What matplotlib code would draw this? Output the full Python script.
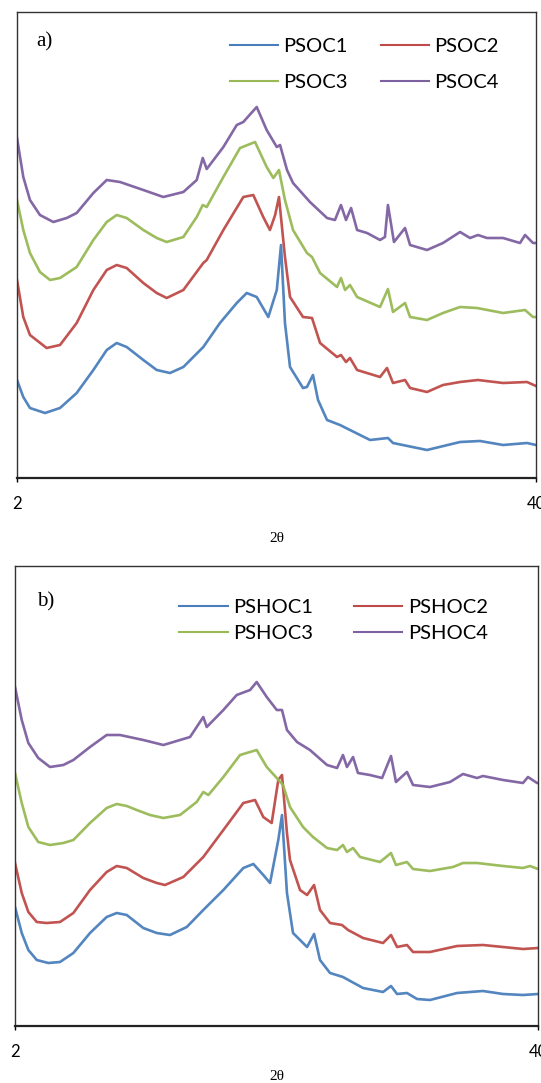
import matplotlib
matplotlib.use("Agg")
import matplotlib.pyplot as plt
from matplotlib.lines import Line2D

# --- panel a) PSOC series: 2theta (deg) and intensity (a.u., offset stacked) ---
psoc1_tt = [2.0, 2.46, 2.95, 4.05, 5.15, 6.37, 7.59, 8.57, 9.30, 10.03, 11.25, 12.23,
            13.2, 14.18, 15.64, 16.86, 18.09, 18.82, 19.55, 20.40, 21.02, 21.33, 21.62,
            21.99, 22.94, 23.23, 23.67, 24.04, 24.70, 25.65, 26.38, 27.85, 29.16, 29.53,
            32.02, 34.44, 35.9, 37.59, 39.34, 40.0]
psoc1_int = [98, 81, 70, 65, 70, 85, 108, 128, 135, 131, 118, 108,
             105, 111, 131, 155, 175, 185, 181, 161, 188, 233, 155,
             111, 90, 91, 103, 78, 58, 53, 48, 38, 40, 35,
             28, 36, 37, 33, 35, 33]

psoc2_tt = [2.0, 2.46, 2.95, 4.17, 5.15, 6.37, 7.59, 8.57, 9.30, 10.03, 11.25, 12.23,
            12.96, 14.18, 15.64, 15.89, 17.11, 18.57, 19.30, 20.03, 20.52, 20.9, 21.18,
            21.62, 21.99, 22.94, 23.6, 24.19, 25.43, 25.72, 26.09, 26.38, 26.9, 28.58,
            29.09, 29.53, 30.41, 30.78, 32.02, 33.19, 34.44, 35.75, 37.59, 39.34, 40.0]
psoc2_int = [198, 161, 143, 130, 133, 155, 188, 208, 213, 210, 195, 185,
             180, 188, 215, 218, 248, 281, 283, 261, 248, 263, 281,
             221, 181, 161, 160, 135, 121, 123, 116, 120, 108, 101,
             110, 95, 98, 90, 86, 93, 96, 98, 95, 96, 92]

psoc3_tt = [2.0, 2.46, 2.95, 3.68, 4.42, 5.15, 6.37, 7.59, 8.57, 9.30, 10.03, 11.25,
            12.23, 12.96, 14.18, 15.16, 15.60, 15.89, 17.11, 18.33, 19.43, 20.28, 20.77,
            21.18, 21.62, 22.21, 23.23, 23.6, 24.19, 25.43, 25.72, 26.02, 26.38, 26.9,
            28.58, 29.16, 29.53, 30.41, 30.78, 32.02, 33.19, 34.44, 35.68, 37.59, 39.2,
            39.78, 40.0]
psoc3_int = [278, 248, 225, 206, 198, 200, 211, 238, 256, 263, 260, 248,
             240, 236, 241, 261, 273, 271, 301, 330, 336, 311, 300,
             308, 278, 248, 225, 221, 205, 191, 200, 188, 193, 181,
             171, 189, 166, 175, 161, 158, 165, 171, 170, 165, 168,
             161, 161]

psoc4_tt = [2.0, 2.46, 2.95, 3.68, 4.66, 5.64, 6.37, 7.59, 8.57, 9.54, 11.25, 12.71,
            14.18, 15.16, 15.60, 15.89, 17.11, 18.09, 18.57, 19.55, 20.28, 21.02, 21.26,
            21.77, 22.21, 23.45, 24.70, 25.28, 25.72, 26.09, 26.46, 26.9, 27.63, 28.58,
            28.94, 29.16, 29.6, 30.41, 30.78, 32.02, 33.19, 34.44, 35.17, 35.75, 36.41,
            37.59, 38.83, 39.2, 39.78, 40.0]
psoc4_int = [340, 301, 278, 263, 256, 260, 265, 285, 298, 296, 288, 281,
             286, 298, 320, 309, 331, 353, 356, 371, 348, 331, 333,
             308, 295, 276, 260, 258, 273, 258, 270, 248, 245, 238,
             241, 273, 236, 250, 233, 228, 235, 246, 240, 243, 240,
             240, 235, 243, 235, 235]

# --- panel b) PSHOC series ---
pshoc1_tt = [2.0, 2.49, 2.97, 3.58, 4.42, 5.27, 6.24, 7.45, 8.66, 9.39, 10.12, 11.32,
             12.30, 13.26, 14.48, 15.68, 17.14, 18.59, 19.32, 20.04, 20.53, 21.13, 21.40,
             21.76, 22.2, 23.22, 23.73, 24.16, 24.89, 25.83, 26.49, 27.29, 28.74, 29.32,
             29.76, 30.48, 31.21, 32.15, 34.12, 36.0, 37.46, 38.91, 40.0]
pshoc1_int = [119, 93, 76, 66, 63, 64, 73, 93, 109, 113, 111, 98,
              93, 91, 99, 116, 136, 158, 162, 151, 143, 186, 211,
              133, 93, 79, 92, 66, 53, 49, 44, 38, 34, 40,
              32, 33, 27, 26, 33, 35, 32, 31, 32]

pshoc2_tt = [2.0, 2.49, 2.97, 3.58, 4.30, 5.27, 6.24, 7.45, 8.66, 9.39, 10.12, 11.32,
             12.30, 12.90, 14.23, 15.68, 17.14, 18.59, 19.44, 20.04, 20.65, 21.13, 21.40,
             21.76, 21.98, 22.71, 23.22, 23.73, 24.16, 24.89, 25.76, 26.20, 27.29, 28.74,
             29.32, 29.76, 30.48, 30.92, 32.15, 34.12, 36.0, 37.46, 38.91, 40.0]
pshoc2_int = [163, 133, 114, 104, 103, 104, 113, 136, 154, 160, 158, 148,
              143, 141, 149, 169, 196, 223, 226, 209, 203, 246, 251,
              193, 166, 136, 131, 141, 116, 103, 101, 96, 88, 83,
              91, 79, 81, 74, 74, 80, 81, 79, 77, 78]

pshoc3_tt = [2.0, 2.49, 2.97, 3.69, 4.54, 5.51, 6.24, 7.45, 8.66, 9.39, 10.12, 10.84,
             11.81, 12.78, 13.99, 15.20, 15.68, 16.05, 17.14, 18.35, 19.56, 20.29, 21.02,
             21.47, 21.98, 22.93, 23.65, 24.67, 25.40, 25.83, 26.12, 26.56, 27.07, 28.52,
             29.32, 29.68, 30.48, 30.92, 32.15, 33.82, 34.55, 35.57, 37.46, 38.91, 39.42,
             40.0]
pshoc3_int = [253, 223, 199, 184, 181, 183, 186, 203, 218, 222, 220, 216,
              211, 208, 211, 224, 234, 231, 249, 271, 276, 259, 248,
              241, 219, 199, 189, 178, 176, 181, 174, 178, 169, 164,
              173, 161, 164, 157, 155, 159, 163, 163, 160, 158, 160,
              157]

pshoc4_tt = [2.0, 2.49, 2.97, 3.69, 4.54, 5.51, 6.24, 7.45, 8.66, 9.63, 11.32, 12.78,
             14.72, 15.68, 15.93, 17.14, 18.11, 19.08, 19.56, 20.29, 21.02, 21.40, 21.76,
             22.49, 23.43, 24.67, 25.40, 25.83, 26.12, 26.56, 26.92, 27.79, 28.67, 29.32,
             29.68, 30.48, 30.92, 32.15, 33.61, 34.55, 35.57, 36.0, 37.46, 38.91, 39.27,
             39.93, 40.0]
pshoc4_int = [339, 306, 283, 268, 259, 261, 266, 279, 291, 291, 286, 281,
              289, 309, 299, 316, 331, 336, 344, 329, 316, 316, 296,
              284, 276, 261, 258, 271, 259, 269, 253, 251, 248, 270,
              244, 254, 241, 239, 244, 252, 248, 250, 246, 243, 249,
              243, 243]

labels_a = ["PSOC1", "PSOC2", "PSOC3", "PSOC4"]
labels_b = ["PSHOC1", "PSHOC2", "PSHOC3", "PSHOC4"]
colors = ["#4A7EBB", "#BE4B48", "#98B954", "#7D60A0"]

series_a = [(psoc1_tt, psoc1_int), (psoc2_tt, psoc2_int),
            (psoc3_tt, psoc3_int), (psoc4_tt, psoc4_int)]
series_b = [(pshoc1_tt, pshoc1_int), (pshoc2_tt, pshoc2_int),
            (pshoc3_tt, pshoc3_int), (pshoc4_tt, pshoc4_int)]


def draw_panel(ax, series, labels, tag, tag_pos, ymax, leg_anchor, leg_opts, label_gap):
    for (tt, inten), lab, col in zip(series, labels, colors):
        ax.plot(tt, inten, color=col, lw=1.9, label=lab,
                solid_joinstyle="round", alpha=0.95)

    ax.set_xlim(2, 40)
    ax.set_ylim(0, ymax)
    ax.set_xticks([2, 40])
    ax.set_xticklabels(["2", "40"], family="Lato", fontsize=12)
    ax.set_yticks([])
    ax.tick_params(axis="x", direction="out", length=3, width=1, pad=10)

    for side in ["top", "left", "right"]:
        ax.spines[side].set_color("#333333")
        ax.spines[side].set_linewidth(1.0)
    ax.spines["bottom"].set_color("#222222")
    ax.spines["bottom"].set_linewidth(1.6)

    ax.set_xlabel("2θ", family="Liberation Serif", fontsize=11, labelpad=label_gap)
    ax.text(tag_pos[0], tag_pos[1], tag, transform=ax.transAxes,
            family="Liberation Serif", fontsize=15, va="center", ha="left")

    # legend laid out row-wise: 1 2 / 3 4 (matplotlib fills columns first)
    order = [0, 2, 1, 3]
    handles = [Line2D([], [], color=colors[i], lw=1.5) for i in order]
    ax.legend(handles, [labels[i] for i in order], ncol=2, loc="upper left",
              bbox_to_anchor=leg_anchor, frameon=False,
              prop={"family": "Lato", "size": 14.5},
              borderpad=0, borderaxespad=0, **leg_opts)


fig = plt.figure(figsize=(5.41, 10.83), dpi=100)

ax_a = fig.add_axes([17 / 541, 1 - 478 / 1083, 519 / 541, 466 / 1083])
ax_b = fig.add_axes([15 / 541, 1 - 1026 / 1083, 523 / 541, 460 / 1083])

draw_panel(ax_a, series_a, labels_a, "a)", (0.038, 0.936), 466, (0.41, 0.944),
           dict(handlelength=2.4, handletextpad=0.25, columnspacing=1.65,
                labelspacing=0.95), 14)
draw_panel(ax_b, series_b, labels_b, "b)", (0.042, 0.922), 460, (0.314, 0.929),
           dict(handlelength=2.4, handletextpad=0.3, columnspacing=2.0,
                labelspacing=0.45), 7)

fig.savefig("out.png", dpi=100)
